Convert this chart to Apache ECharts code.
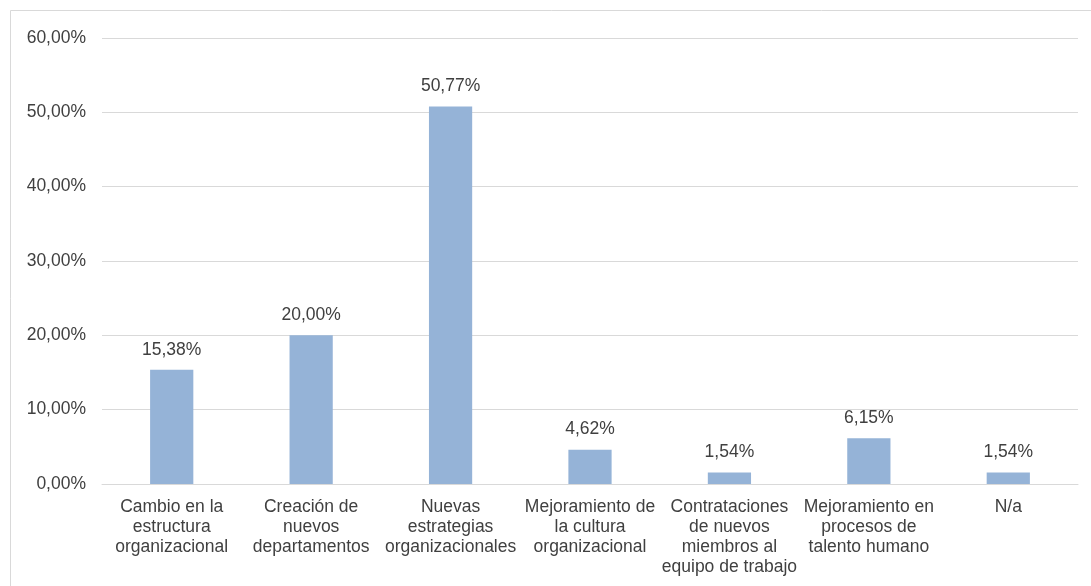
<!DOCTYPE html>
<html>
<head>
<meta charset="utf-8">
<script src="https://cdn.jsdelivr.net/npm/echarts@6/dist/echarts.min.js"></script>
<style>
  html, body { margin: 0; padding: 0; background: #fff; }
  #chart { width: 1091px; height: 586px; }
</style>
</head>
<body>
<div id="chart"></div>
<script>
// Categories (x axis), one per bar
const categories = [
  'Cambio en la\nestructura\norganizacional',
  'Creación de\nnuevos\ndepartamentos',
  'Nuevas\nestrategias\norganizacionales',
  'Mejoramiento de\nla cultura\norganizacional',
  'Contrataciones\nde nuevos\nmiembros al\nequipo de trabajo',
  'Mejoramiento en\nprocesos de\ntalento humano',
  'N/a'
];

// Share of responses, in percent
const values = [15.38, 20.00, 50.77, 4.62, 1.54, 6.15, 1.54];

// Y axis range and step (percent)
const yMin = 0;
const yMax = 60;
const yStep = 10;

const fmt = v => v.toFixed(2).replace('.', ',') + '%';

const chart = echarts.init(document.getElementById('chart'), null, { renderer: 'canvas' });

chart.setOption({
  backgroundColor: '#ffffff',
  animation: false,
  textStyle: { fontFamily: 'Liberation Sans, Arial, sans-serif' },
  graphic: [{
    type: 'rect',
    shape: { x: 10.5, y: 10.5, width: 1100, height: 600 },
    style: { fill: 'none', stroke: '#d9d9d9', lineWidth: 1 },
    silent: true,
    z: -1
  }],
  grid: { left: 102, right: 13, top: 38, bottom: 102, containLabel: false },
  xAxis: {
    type: 'category',
    data: categories,
    axisLine: { show: true, lineStyle: { color: '#d9d9d9', width: 1 } },
    axisTick: { show: false },
    axisLabel: {
      interval: 0,
      color: '#404040',
      fontSize: 17.5,
      lineHeight: 20,
      margin: 13,
      align: 'center'
    }
  },
  yAxis: {
    type: 'value',
    min: yMin,
    max: yMax,
    interval: yStep,
    axisLine: { show: false },
    axisTick: { show: false },
    splitLine: { lineStyle: { color: '#d9d9d9', width: 1 } },
    axisLabel: {
      color: '#404040',
      fontSize: 17.5,
      margin: 16,
      formatter: v => fmt(v)
    }
  },
  series: [{
    type: 'bar',
    data: values,
    barWidth: '31%',
    itemStyle: { color: '#95b3d7' },
    label: {
      show: true,
      position: 'top',
      distance: 11,
      color: '#404040',
      fontSize: 17.5,
      formatter: p => fmt(p.value)
    }
  }]
});
</script>
</body>
</html>
